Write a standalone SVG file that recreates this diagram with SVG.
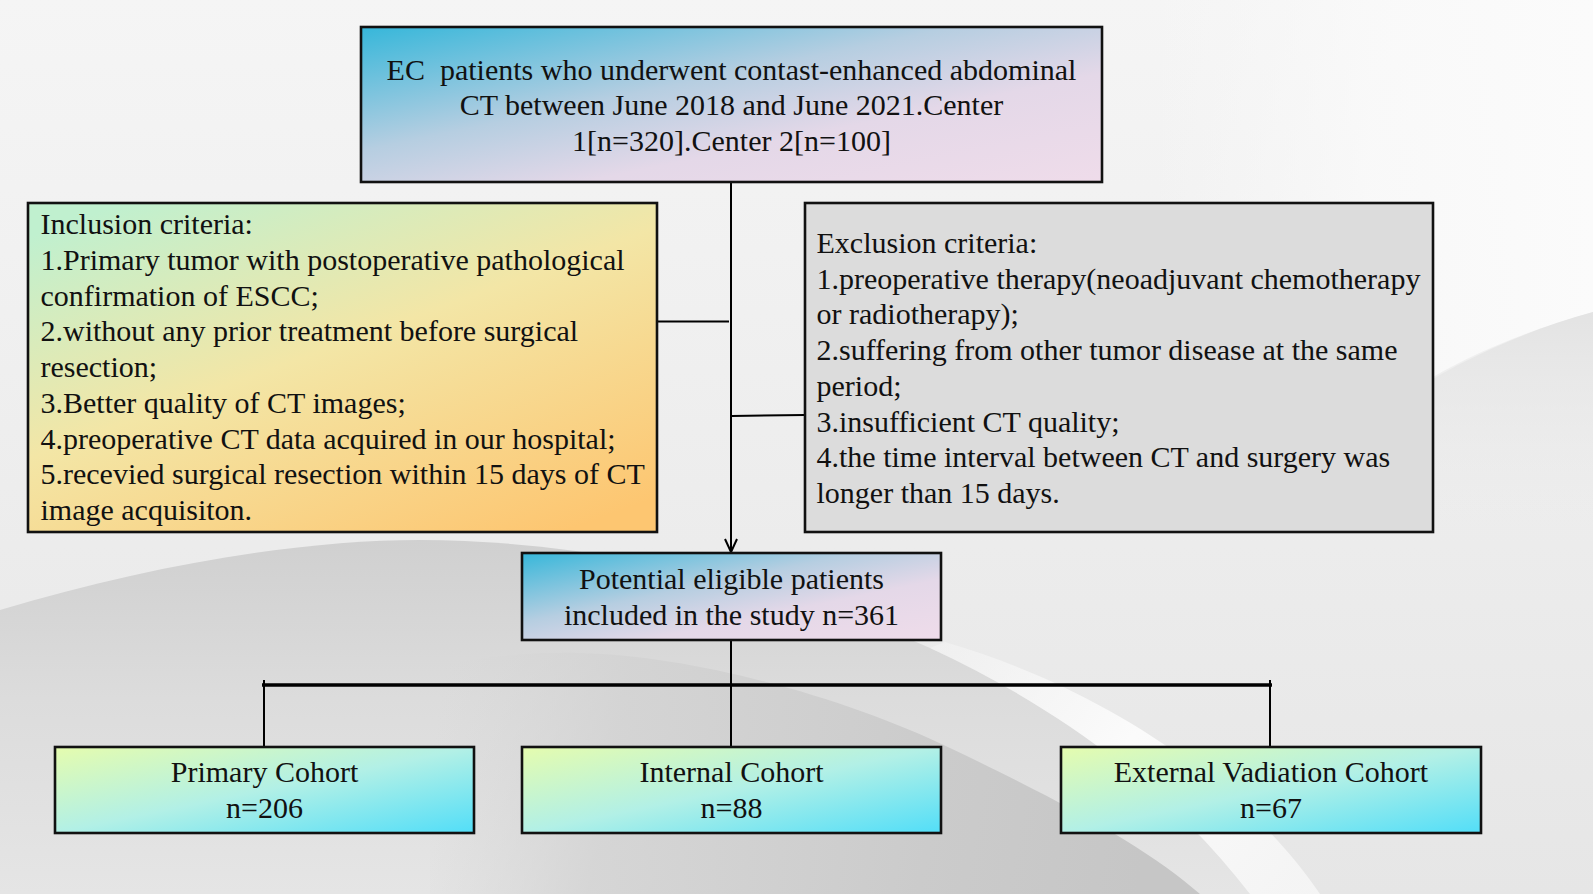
<svg xmlns="http://www.w3.org/2000/svg" width="1593" height="894" viewBox="0 0 1593 894">
<defs>
<linearGradient id="bg" gradientUnits="userSpaceOnUse" x1="0" y1="0" x2="0" y2="894">
<stop offset="0" stop-color="#f5f5f5"/>
<stop offset="0.35" stop-color="#f0f0f0"/>
<stop offset="1" stop-color="#e6e6e6"/>
</linearGradient>
<linearGradient id="whiteTop" gradientUnits="userSpaceOnUse" x1="1593" y1="200" x2="1150" y2="200">
<stop offset="0" stop-color="#fbfbfb" stop-opacity="1"/>
<stop offset="0.5" stop-color="#fafafa" stop-opacity="0.8"/>
<stop offset="1" stop-color="#f8f8f8" stop-opacity="0"/>
</linearGradient>
<linearGradient id="rightShade" gradientUnits="userSpaceOnUse" x1="0" y1="310" x2="0" y2="530">
<stop offset="0" stop-color="#e3e3e3"/>
<stop offset="1" stop-color="#ebebeb" stop-opacity="0"/>
</linearGradient>
<linearGradient id="dome1" gradientUnits="userSpaceOnUse" x1="0" y1="540" x2="0" y2="894">
<stop offset="0" stop-color="#d0d0d0"/>
<stop offset="0.45" stop-color="#dcdcdc"/>
<stop offset="1" stop-color="#e5e5e5"/>
</linearGradient>
<linearGradient id="band" gradientUnits="userSpaceOnUse" x1="940" y1="640" x2="1280" y2="894">
<stop offset="0" stop-color="#fbfbfb" stop-opacity="0.3"/>
<stop offset="0.5" stop-color="#fcfcfc" stop-opacity="0.95"/>
<stop offset="1" stop-color="#f6f6f6" stop-opacity="0.9"/>
</linearGradient>
<linearGradient id="dome2" gradientUnits="userSpaceOnUse" x1="440" y1="700" x2="1150" y2="820">
<stop offset="0" stop-color="#d6d6d6" stop-opacity="0"/>
<stop offset="0.25" stop-color="#d2d2d2" stop-opacity="0.8"/>
<stop offset="0.7" stop-color="#cbcbcb"/>
<stop offset="1" stop-color="#c6c6c6"/>
</linearGradient>
<linearGradient id="gBlue" x1="0" y1="0" x2="1" y2="1">
<stop offset="0" stop-color="#36b7da"/>
<stop offset="0.4" stop-color="#b6cee1"/>
<stop offset="0.65" stop-color="#e4d8e8"/>
<stop offset="1" stop-color="#efdcea"/>
</linearGradient>
<linearGradient id="gInc" x1="0.15" y1="0" x2="0.85" y2="1">
<stop offset="0" stop-color="#c0f0cf"/>
<stop offset="0.45" stop-color="#f3e6a6"/>
<stop offset="1" stop-color="#fdc671"/>
</linearGradient>
<linearGradient id="gCoh" x1="0" y1="0" x2="1" y2="1">
<stop offset="0" stop-color="#e5fcae"/>
<stop offset="0.5" stop-color="#b2f0e6"/>
<stop offset="1" stop-color="#52def8"/>
</linearGradient>
</defs>
<style>
.box{stroke:#111;stroke-width:2.6}
.t{font-family:"Liberation Serif","Times New Roman",serif;font-size:30px;fill:#111;white-space:pre}
.c{text-anchor:middle}
.ln{fill:none;stroke:#000;stroke-width:2}
</style>
<g id="background">
<rect x="0" y="0" width="1593" height="894" fill="url(#bg)"/>
<path d="M1150,0 L1593,0 L1593,312 C1530,330 1480,350 1433,377 C1350,420 1250,380 1150,330 Z" fill="url(#whiteTop)"/>
<path d="M1400,400 C1450,365 1520,332 1593,312 L1593,530 L1400,530 Z" fill="url(#rightShade)"/>
<path d="M0,610 C150,565 300,540 420,540 C600,540 800,590 930,648 C1060,708 1170,790 1250,894 L0,894 Z" fill="url(#dome1)"/>
<path d="M930,648 C1060,708 1170,790 1250,894 L1320,894 C1250,790 1110,690 945,642 Z" fill="url(#band)"/>
<path d="M430,668 C480,656 530,652 580,653 C700,656 850,700 950,748 C1070,805 1150,850 1200,894 L430,894 Z" fill="url(#dome2)"/>
</g>
<g id="connectors">
<line class="ln" x1="731" y1="182" x2="731" y2="551"/>
<path class="ln" d="M725,539 L731,552 L737,539"/>
<line class="ln" x1="657" y1="321.5" x2="729" y2="321.5"/>
<line class="ln" x1="732" y1="416" x2="805" y2="415"/>
<line class="ln" x1="731" y1="640" x2="731" y2="747"/>
<line x1="262" y1="685" x2="1272" y2="685" stroke="#000" stroke-width="3.5"/>
<line class="ln" x1="264" y1="680" x2="264" y2="747"/>
<line class="ln" x1="1270" y1="680" x2="1270" y2="747"/>
</g>
<g id="node-source">
<rect class="box" x="361" y="27" width="741" height="155" fill="url(#gBlue)"/>
<text class="t c" x="731.5" y="79.5">EC  patients who underwent contast-enhanced abdominal</text>
<text class="t c" x="731.5" y="115">CT between June 2018 and June 2021.Center</text>
<text class="t c" x="731.5" y="150.5">1[n=320].Center 2[n=100]</text>
</g>
<g id="node-inclusion">
<rect class="box" x="28" y="203" width="629" height="329" fill="url(#gInc)"/>
<text class="t" x="40.5" y="234">Inclusion criteria:</text>
<text class="t" x="40.5" y="269.8">1.Primary tumor with postoperative pathological</text>
<text class="t" x="40.5" y="305.5">confirmation of ESCC;</text>
<text class="t" x="40.5" y="341.3">2.without any prior treatment before surgical</text>
<text class="t" x="40.5" y="377">resection;</text>
<text class="t" x="40.5" y="412.8">3.Better quality of CT images;</text>
<text class="t" x="40.5" y="448.5">4.preoperative CT data acquired in our hospital;</text>
<text class="t" x="40.5" y="484.3">5.recevied surgical resection within 15 days of CT</text>
<text class="t" x="40.5" y="520">image acquisiton.</text>
</g>
<g id="node-exclusion">
<rect class="box" x="805" y="203" width="628" height="329" fill="#dcdcdc"/>
<text class="t" x="816.5" y="253">Exclusion criteria:</text>
<text class="t" x="816.5" y="288.7">1.preoperative therapy(neoadjuvant chemotherapy</text>
<text class="t" x="816.5" y="324.4">or radiotherapy);</text>
<text class="t" x="816.5" y="360.1">2.suffering from other tumor disease at the same</text>
<text class="t" x="816.5" y="395.9">period;</text>
<text class="t" x="816.5" y="431.6">3.insufficient CT quality;</text>
<text class="t" x="816.5" y="467.3">4.the time interval between CT and surgery was</text>
<text class="t" x="816.5" y="503">longer than 15 days.</text>
</g>
<g id="node-eligible">
<rect class="box" x="522" y="553" width="419" height="87" fill="url(#gBlue)"/>
<text class="t c" x="731.5" y="589">Potential eligible patients</text>
<text class="t c" x="731.5" y="625">included in the study n=361</text>
</g>
<g id="node-primary">
<rect class="box" x="55" y="747" width="419" height="86" fill="url(#gCoh)"/>
<text class="t c" x="264.5" y="782">Primary Cohort</text>
<text class="t c" x="264.5" y="817.5">n=206</text>
</g>
<g id="node-internal">
<rect class="box" x="522" y="747" width="419" height="86" fill="url(#gCoh)"/>
<text class="t c" x="731.5" y="782">Internal Cohort</text>
<text class="t c" x="731.5" y="817.5">n=88</text>
</g>
<g id="node-external">
<rect class="box" x="1061" y="747" width="420" height="86" fill="url(#gCoh)"/>
<text class="t c" x="1271" y="782">External Vadiation Cohort</text>
<text class="t c" x="1271" y="817.5">n=67</text>
</g>
</svg>
